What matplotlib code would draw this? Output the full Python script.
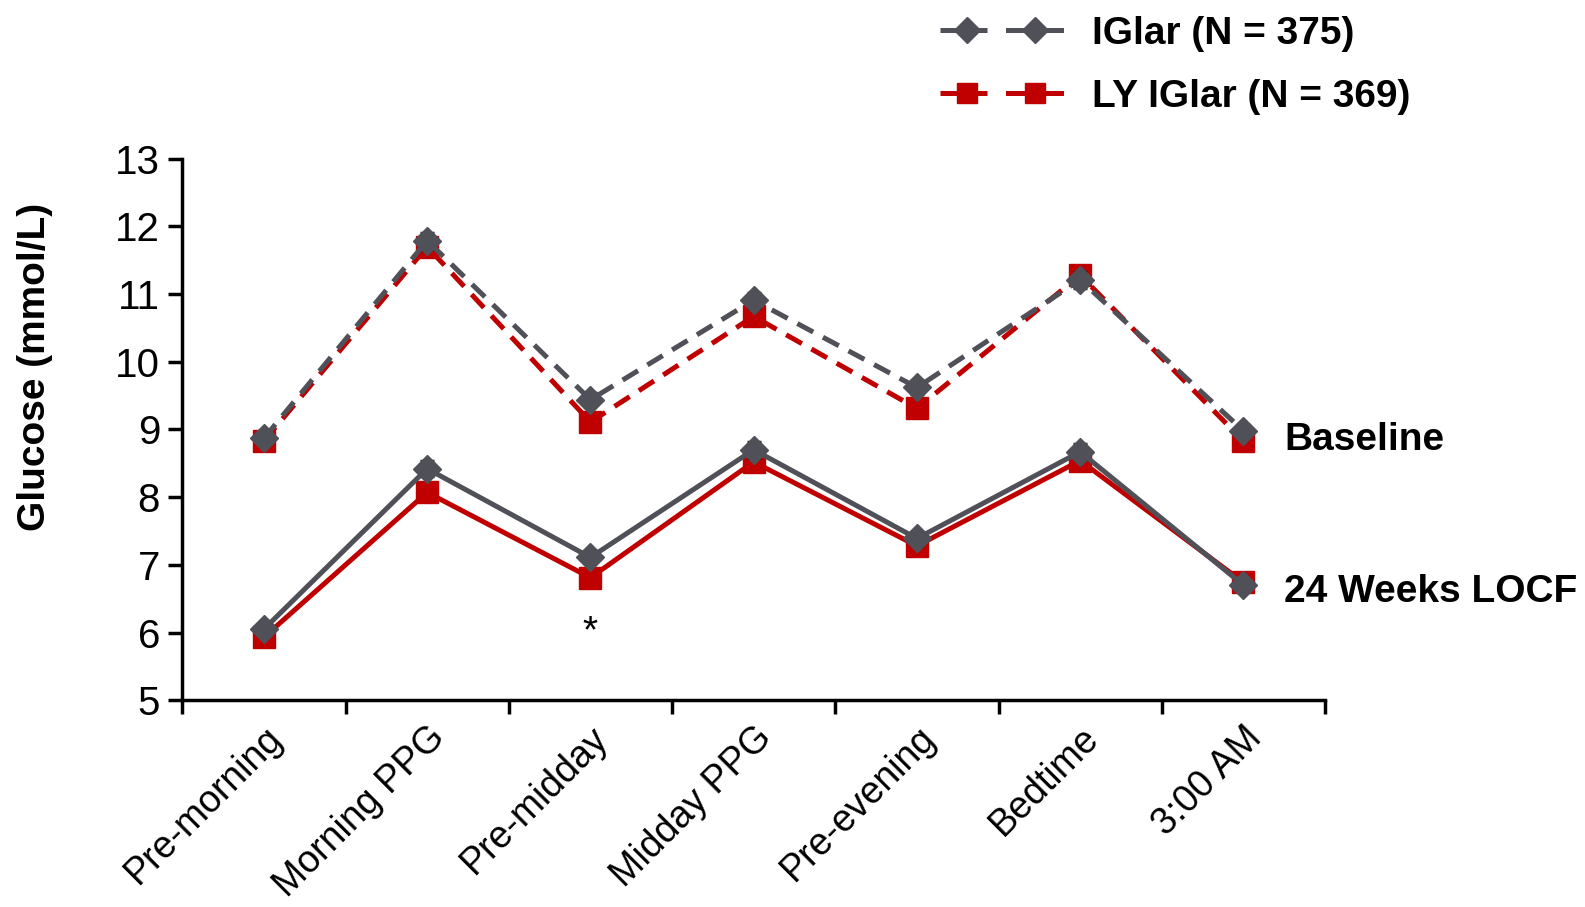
import matplotlib
matplotlib.use("Agg")
import matplotlib.pyplot as plt
from matplotlib.lines import Line2D
from matplotlib.legend_handler import HandlerTuple
import numpy as np

plt.rcParams['font.family'] = ['Liberation Sans', 'DejaVu Sans']

times = ["Pre-morning", "Morning PPG", "Pre-midday", "Midday PPG",
         "Pre-evening", "Bedtime", "3:00 AM"]

# glucose, mmol/L
iglar_base = [8.87, 11.79, 9.44, 10.91, 9.62, 11.21, 8.98]
ly_base = [8.83, 11.70, 9.11, 10.67, 9.31, 11.28, 8.83]
iglar_24w = [6.05, 8.42, 7.11, 8.70, 7.39, 8.67, 6.70]
ly_24w = [5.93, 8.07, 6.81, 8.52, 7.28, 8.54, 6.74]

# standard errors
iglar_base_se = [0.08, 0.12, 0.10, 0.11, 0.09, 0.12, 0.09]
ly_base_se = [0.08, 0.11, 0.09, 0.10, 0.09, 0.12, 0.08]
iglar_24w_se = [0.07, 0.11, 0.09, 0.12, 0.09, 0.11, 0.07]
ly_24w_se = [0.07, 0.10, 0.08, 0.10, 0.08, 0.10, 0.07]

GRAY = "#505158"
RED = "#C00000"
FS = 28

fig = plt.figure(figsize=(15.85, 9.07), dpi=100)
ax = fig.add_axes([0.115, 0.228, 0.721, 0.597])

x = np.arange(len(times))
dash = (3.6, 2.2)
lw = 3.6
err_kw = dict(ecolor="#222222", elinewidth=1.5, capsize=5, capthick=2.5)

# baseline (dashed)
ax.errorbar(x, ly_base, yerr=ly_base_se, color=RED, lw=lw, ls="--", dashes=dash,
            marker="s", ms=16, zorder=3, **err_kw)
ax.errorbar(x, iglar_base, yerr=iglar_base_se, color=GRAY, lw=lw, ls="--", dashes=dash,
            marker="D", ms=14, zorder=4, **err_kw)

# 24 weeks LOCF (solid)
ax.errorbar(x, ly_24w, yerr=ly_24w_se, color=RED, lw=lw, ls="-",
            marker="s", ms=16, zorder=3, **err_kw)
ax.errorbar(x, iglar_24w, yerr=iglar_24w_se, color=GRAY, lw=lw, ls="-",
            marker="D", ms=14, zorder=4, **err_kw)

ax.text(2, 6.0, "*", ha="center", va="center", fontsize=FS, color="black")

ax.set_xlim(-0.5, len(times) - 0.5)
ax.set_ylim(5, 13)
ax.set_yticks(range(5, 14))
ax.tick_params(axis="y", labelsize=29, width=2.5, length=10, direction="out", pad=6)

# category ticks sit between the points
ax.set_xticks(np.arange(-0.5, len(times)), minor=False)
ax.set_xticklabels([])
ax.set_xticks(x, minor=True)
ax.set_xticklabels(times, minor=True, rotation=45, ha="right",
                   rotation_mode="anchor", fontsize=27)
ax.tick_params(axis="x", which="major", width=2.5, length=10, direction="out")
ax.tick_params(axis="x", which="minor", length=0, pad=14)

for s in ["top", "right"]:
    ax.spines[s].set_visible(False)
for s in ["left", "bottom"]:
    ax.spines[s].set_linewidth(2.5)

ax.set_ylabel("Glucose (mmol/L)", fontsize=FS, fontweight="bold")
ax.yaxis.set_label_coords(-0.113, 0.615)

ax.text(6.25, 8.85, "Baseline", fontsize=FS, fontweight="bold", va="center",
        clip_on=False)
ax.text(6.25, 6.6, "24 Weeks LOCF", fontsize=FS, fontweight="bold", va="center",
        clip_on=False)

# legend: dashed + solid sample per arm
h_iglar = (Line2D([], [], color=GRAY, lw=lw, ls="--", dashes=dash, marker="D", ms=13),
           Line2D([], [], color=GRAY, lw=lw, ls="-", marker="D", ms=13))
h_ly = (Line2D([], [], color=RED, lw=lw, ls="--", dashes=dash, marker="s", ms=14),
        Line2D([], [], color=RED, lw=lw, ls="-", marker="s", ms=14))
leg = fig.legend([h_iglar, h_ly], ["IGlar (N = 375)", "LY IGlar (N = 369)"],
                 handler_map={tuple: HandlerTuple(ndivide=None, pad=0.4)},
                 loc="upper left", bbox_to_anchor=(0.581, 1.004), frameon=False,
                 borderpad=0, prop={"size": FS, "weight": "bold"}, handlelength=3.1,
                 handletextpad=0.8, labelspacing=0.7)

fig.savefig("out.png", dpi=100)
